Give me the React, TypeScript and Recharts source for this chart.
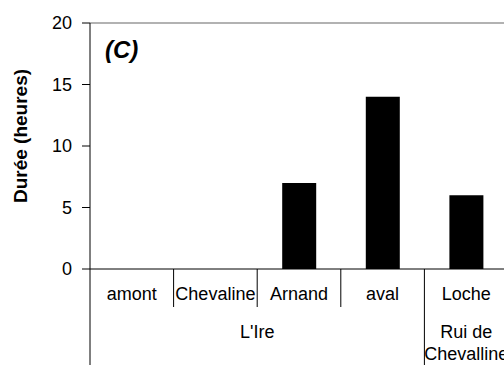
import { BarChart, Bar, XAxis, YAxis, ReferenceLine } from 'recharts';

const sites = ['amont', 'Chevaline', 'Arnand', 'aval', 'Loche'];
const rivers = ["L'Ire", "L'Ire", "L'Ire", "L'Ire", 'Rui de Chevalline'];
const durations = [0, 0, 7, 14, 6];
const yTicks = [0, 5, 10, 15, 20];

const data = sites.map((site, i) => ({ site, river: rivers[i], duree: durations[i] }));

const FONT = '"Liberation Sans", Arial, sans-serif';
const CHART_W = 508;
const AXIS_W = 90;
const BAND = (CHART_W - AXIS_W) / sites.length;

function SiteTick(props: any) {
  const { x, y, payload } = props;
  const i = payload.index ?? props.index;
  const left = x - BAND / 2;
  const groupStart = i === 0 || rivers[i] !== rivers[i - 1];
  let end = i;
  while (end + 1 < rivers.length && rivers[end + 1] === rivers[i]) end++;
  const span = end - i + 1;
  const words = rivers[i].split(' ');
  const lines = span === 1 && words.length > 2
    ? [words.slice(0, -1).join(' '), words[words.length - 1]]
    : [rivers[i]];
  return (
    <g>
      <line x1={left} x2={left} y1={y} y2={groupStart ? y + 100 : y + 38} stroke="#000" strokeWidth={1} />
      <text x={x} y={y + 31} textAnchor="middle" fontSize={18} fill="#000" fontFamily={FONT}>
        {payload.value}
      </text>
      {groupStart && lines.map((ln, k) => (
        <text key={k} x={left + (span * BAND) / 2} y={y + 69 + k * 22} textAnchor="middle"
          fontSize={18} fill="#000" fontFamily={FONT}>
          {ln}
        </text>
      ))}
    </g>
  );
}

function YTitle(props: any) {
  const vb = props.viewBox;
  const cx = vb.x + 20;
  const cy = vb.y + vb.height / 2 - 10;
  return (
    <text x={cx} y={cy} transform={`rotate(-90, ${cx}, ${cy})`} textAnchor="middle"
      dominantBaseline="central" fontSize={19} fontWeight="bold" fill="#000" fontFamily={FONT}>
      Durée (heures)
    </text>
  );
}

function PanelTag(props: any) {
  const vb = props.viewBox;
  return (
    <text x={vb.x + 15} y={vb.y + 35} fontSize={24} fontWeight="bold" fontStyle="italic"
      fill="#000" fontFamily={FONT}>
      (C)
    </text>
  );
}

export default function App() {
  return (
    <div style={{ position: 'absolute', left: 0, top: 0, width: 504, height: 365, overflow: 'hidden', background: '#fff', fontFamily: FONT }}>
      <BarChart width={CHART_W} height={365} data={data} margin={{ top: 23, right: 0, bottom: 0, left: 0 }}>
        <ReferenceLine y={20} stroke="#999" strokeWidth={1.5} label={<PanelTag />} />
        <XAxis
          dataKey="site"
          height={96}
          interval={0}
          tickLine={false}
          tickSize={0}
          tickMargin={0}
          axisLine={{ stroke: '#000' }}
          tick={<SiteTick />}
        />
        <YAxis
          width={AXIS_W}
          domain={[0, 20]}
          ticks={yTicks}
          interval={0}
          tickSize={8}
          tickMargin={10}
          axisLine={{ stroke: '#000' }}
          tickLine={{ stroke: '#000' }}
          tick={{ fill: '#000', fontSize: 18, fontFamily: FONT }}
          label={<YTitle />}
        />
        <Bar dataKey="duree" fill="#000" barSize={34} isAnimationActive={false} />
      </BarChart>
    </div>
  );
}
